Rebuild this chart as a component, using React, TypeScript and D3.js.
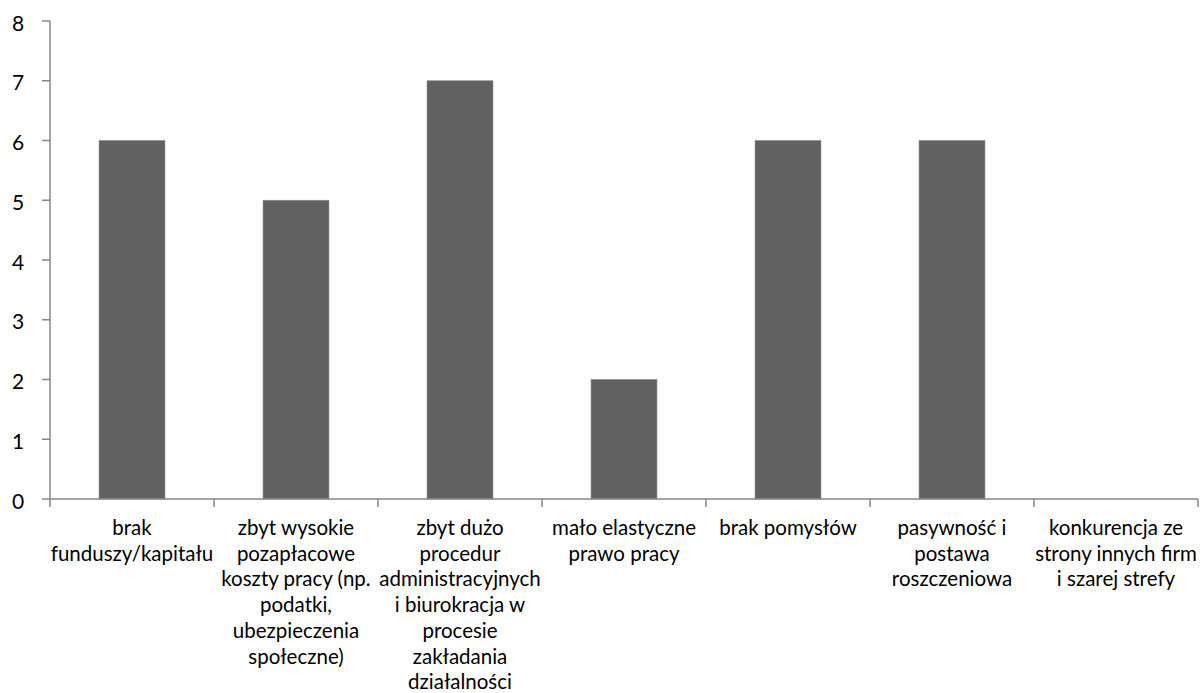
import React from "react";
import * as d3 from "d3";

const categories: string[][] = [
  ["brak", "funduszy/kapitału"],
  ["zbyt wysokie", "pozapłacowe", "koszty pracy (np.", "podatki,", "ubezpieczenia", "społeczne)"],
  ["zbyt dużo", "procedur", "administracyjnych", "i biurokracja w", "procesie", "zakładania", "działalności"],
  ["mało elastyczne", "prawo pracy"],
  ["brak pomysłów"],
  ["pasywność i", "postawa", "roszczeniowa"],
  ["konkurencja ze", "strony innych firm", "i szarej strefy"],
];
const values: number[] = [6, 5, 7, 2, 6, 6, 0];
const yTicks: number[] = [0, 1, 2, 3, 4, 5, 6, 7, 8];

const W = 1202;
const H = 693;
const left = 50;
const right = 1198;
const top = 21;
const bottom = 499;
const axisColor = "#878787";
const barColor = "#616161";
const font = "Lato, 'Noto Sans', sans-serif";

export default function App() {
  const idx = categories.map((_, i) => String(i));
  const x = d3.scaleBand<string>().domain(idx).range([left, right]).paddingInner(0.598).paddingOuter(0.299);
  const band = d3.scaleBand<string>().domain(idx).range([left, right]).padding(0);
  const y = d3.scaleLinear().domain([0, 8]).range([bottom, top]);
  const lineH = 25.7;

  return (
    <svg width={W} height={H} style={{ position: "absolute", left: 0, top: 0, background: "#fff" }}>
      <rect x={0} y={0} width={W} height={H} fill="#fff" />
      {values.map((v, i) => (
        v > 0 ? (
          <rect
            key={i}
            x={x(String(i))!}
            y={y(v)}
            width={x.bandwidth()}
            height={y(0) - y(v)}
            fill={barColor}
            stroke="#8a8a8a"
            strokeWidth={0.6}
          />
        ) : null
      ))}
      <line x1={left} x2={left} y1={top} y2={bottom} stroke={axisColor} strokeWidth={1.5} />
      {yTicks.map((t) => (
        <g key={t}>
          <line x1={left - 8} x2={left} y1={y(t)} y2={y(t)} stroke={axisColor} strokeWidth={1.5} />
          <text x={18} y={y(t) + 1} textAnchor="middle" dominantBaseline="central" fontFamily={font} fontSize={21} fill="#000">
            {t}
          </text>
        </g>
      ))}
      <line x1={left} x2={right} y1={bottom} y2={bottom} stroke={axisColor} strokeWidth={1.5} />
      {idx.concat([String(categories.length)]).map((k, i) => {
        const xx = i < categories.length ? band(k)! : right;
        return <line key={k} x1={xx} x2={xx} y1={bottom} y2={bottom + 8} stroke={axisColor} strokeWidth={1.5} />;
      })}
      {categories.map((lines, i) => {
        const cx = band(String(i))! + band.bandwidth() / 2;
        return (
          <text key={i} textAnchor="middle" fontFamily={font} fontSize={20.5} fill="#000">
            {lines.map((l, j) => (
              <tspan key={j} x={cx} y={535 + j * lineH}>
                {l}
              </tspan>
            ))}
          </text>
        );
      })}
    </svg>
  );
}
